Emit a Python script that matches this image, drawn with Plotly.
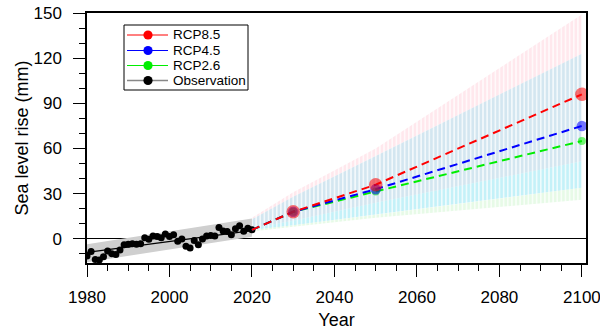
import plotly.graph_objects as go

# ---------------- data ----------------
obs_years = list(range(1980, 2021))
obs_vals = [-11.3, -8.4, -13.6, -14.0, -11.8, -8.0, -9.8, -10.3, -7.3, -3.8,
            -3.6, -3.3, -3.6, -3.3, 0.7, -0.2, 2.0, 1.6, 0.7, 3.3,
            1.6, 2.7, -1.6, 0.0, -4.9, -6.0, -1.1, -3.8, 0.0, 2.0,
            2.2, 2.0, 7.6, 5.3, 4.9, 2.7, 6.7, 8.7, 5.1, 7.1, 6.0]

trend_years = [1980, 2020]
trend_vals = [-9.0, 5.5]
trend_upper = [-3.5, 13.5]
trend_lower = [-15.5, 1.5]

proj_years = [2020, 2030, 2050, 2100]
rcp85 = [6.0, 18.0, 36.0, 96.0]
rcp45 = [6.0, 18.0, 33.0, 75.0]
rcp26 = [6.0, 18.0, 31.5, 65.0]

# uncertainty fan boundaries (at projection years)
fan_top_85 = [14.0, 31.0, 60.0, 149.0]
fan_top_45 = [13.0, 28.0, 55.0, 123.0]
fan_top_cyan = [7.0, 12.0, 24.0, 51.5]
fan_top_green = [6.0, 9.0, 16.0, 34.0]
fan_bottom = [5.0, 8.0, 14.0, 26.0]

marker_years = [2030, 2050, 2100]

legend_labels = ["RCP8.5", "RCP4.5", "RCP2.6", "Observation"]
legend_marker_colors = ["#ff0000", "#0000ff", "#00ee00", "#000000"]
legend_line_colors = ["#ff0000", "#0000ff", "#00ee00", "#888888"]

x_tick_vals = [1980, 2000, 2020, 2040, 2060, 2080, 2100]
y_tick_vals = [0, 30, 60, 90, 120, 150]

FONT = "Liberation Sans, Arial, Helvetica, sans-serif"

W, H = 600, 333
L, R, T, B = 87, 14, 13, 70
PW, PH = W - L - R, H - T - B


def px_x(px):  # pixel -> paper x
    return (px - L) / PW


def px_y(py):  # pixel -> paper y
    return 1 - (py - T) / PH


fig = go.Figure()


def band(years, lower, upper, color):
    xs = list(years) + list(years)[::-1]
    ys = list(upper) + list(lower)[::-1]
    fig.add_trace(go.Scatter(
        x=xs, y=ys, mode="lines", line=dict(width=0, color="rgba(0,0,0,0)"),
        fill="toself", fillcolor="rgba(0,0,0,0)",
        fillpattern=dict(shape="|", size=4.125, solidity=0.72,
                         fgcolor=color, bgcolor="rgba(0,0,0,0)"),
        hoverinfo="skip", showlegend=False))


band(proj_years, fan_top_45, fan_top_85, "#ffd2db")
band(proj_years, fan_top_cyan, fan_top_45, "#a8cde2")
band(proj_years, fan_top_green, fan_top_cyan, "#8ae4f2")
band(proj_years, fan_bottom, fan_top_green, "#d0f6d0")

# observation confidence band
fig.add_trace(go.Scatter(
    x=trend_years + trend_years[::-1], y=trend_upper + trend_lower[::-1],
    mode="lines", line=dict(width=0), fill="toself", fillcolor="#cfcfcf",
    hoverinfo="skip", showlegend=False))
fig.add_trace(go.Scatter(x=trend_years, y=trend_vals, mode="lines",
                         line=dict(color="black", width=1.2), showlegend=False))
fig.add_trace(go.Scatter(x=obs_years, y=obs_vals, mode="markers",
                         marker=dict(color="black", size=7), showlegend=False))

scen = [("RCP2.6", rcp26, "#00ee00", 8), ("RCP4.5", rcp45, "#0000ff", 10.5),
        ("RCP8.5", rcp85, "#ff0000", 13.5)]
for name, vals, col, ms in scen:
    fig.add_trace(go.Scatter(x=proj_years, y=vals, mode="lines",
                             line=dict(color=col, width=2, dash="8px,5px"),
                             showlegend=False))
for name, vals, col, ms in scen:
    fig.add_trace(go.Scatter(x=marker_years, y=vals[1:], mode="markers",
                             marker=dict(color=col, size=ms, opacity=0.55),
                             showlegend=False))

# ---------- legend (box, line, marker and label per entry) ----------
shapes = [dict(type="rect", xref="paper", yref="paper",
               x0=px_x(124), x1=px_x(248), y0=px_y(90), y1=px_y(25),
               line=dict(color="black", width=1), fillcolor="white", layer="above")]
annotations = []
entry_py = [35, 50.5, 65.5, 80.5]
for lab, mc, lc, py in zip(legend_labels, legend_marker_colors, legend_line_colors, entry_py):
    yy = px_y(py)
    shapes.append(dict(type="line", xref="paper", yref="paper",
                       x0=px_x(127), x1=px_x(168), y0=yy, y1=yy,
                       line=dict(color=lc, width=1.5 if lab == "Observation" else 1)))
    shapes.append(dict(type="circle", xref="paper", yref="paper",
                       xsizemode="pixel", ysizemode="pixel",
                       xanchor=px_x(148), yanchor=yy, x0=-4.6, x1=4.6, y0=-4.6, y1=4.6,
                       fillcolor=mc, line=dict(color=mc, width=0)))
    annotations.append(dict(text=lab, xref="paper", yref="paper", x=px_x(171), y=yy,
                            xanchor="left", yanchor="middle", showarrow=False,
                            font=dict(size=13.5, family=FONT, color="black")))

fig.update_layout(
    width=W, height=H,
    margin=dict(l=L, r=R, t=T, b=B),
    paper_bgcolor="white", plot_bgcolor="white",
    font=dict(family=FONT, color="black", size=17),
    showlegend=False,
    shapes=shapes, annotations=annotations,
)
fig.update_xaxes(
    range=[1980, 2101], tickvals=x_tick_vals, automargin=False,
    ticklabeloverflow="allow",
    ticks="outside", ticklen=12, tickwidth=1.2, tickcolor="black",
    minor=dict(dtick=5, tick0=1980, ticks="outside", ticklen=6, tickcolor="black", tickwidth=1.2),
    showline=True, linecolor="black", linewidth=1.5, mirror=True,
    showgrid=False, zeroline=False, ticklabelstandoff=6,
    tickfont=dict(size=17), title=dict(text="Year", font=dict(size=18), standoff=7),
)
fig.update_yaxes(
    range=[-16, 150], tickvals=y_tick_vals, automargin=False,
    ticklabeloverflow="allow",
    ticks="outside", ticklen=12, tickwidth=1.2, tickcolor="black",
    minor=dict(dtick=10, tick0=0, ticks="outside", ticklen=6, tickcolor="black", tickwidth=1.2),
    showline=True, linecolor="black", linewidth=1.5, mirror=True,
    showgrid=False, zeroline=True, zerolinecolor="black", zerolinewidth=1.2,
    ticklabelstandoff=8,
    tickfont=dict(size=17), title=dict(text="Sea level rise (mm)", font=dict(size=18), standoff=0),
)

fig.write_html("out.html", config={"displayModeBar": False},
               post_script="document.body.style.margin='0px';")
